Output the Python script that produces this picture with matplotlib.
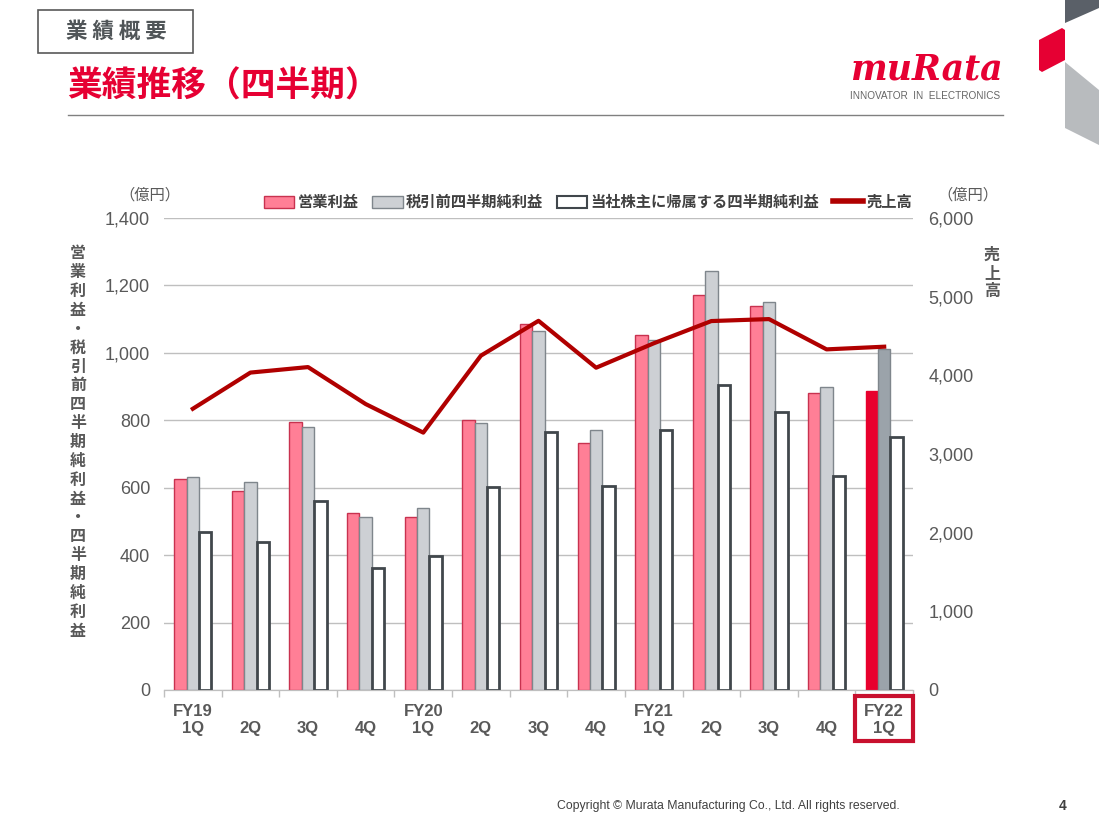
import matplotlib
matplotlib.use("Agg")
import matplotlib.pyplot as plt
import numpy as np
from matplotlib.patches import Rectangle, Polygon
from matplotlib.lines import Line2D
from matplotlib.ticker import FuncFormatter

plt.rcParams['font.family'] = ['Liberation Sans', 'Noto Sans CJK JP']

# data (億円)
quarters = ["FY19\n1Q", "\n2Q", "\n3Q", "\n4Q", "FY20\n1Q", "\n2Q", "\n3Q", "\n4Q",
            "FY21\n1Q", "\n2Q", "\n3Q", "\n4Q", "FY22\n1Q"]
operating_income = [625, 590, 794, 524, 512, 802, 1085, 733, 1052, 1172, 1138, 880, 887]
pretax_income = [631, 616, 779, 512, 539, 791, 1065, 770, 1037, 1242, 1150, 899, 1011]
net_income = [470, 440, 562, 363, 396, 603, 766, 606, 772, 906, 826, 636, 751]
net_sales = [3575, 4035, 4105, 3635, 3272, 4250, 4693, 4097, 4407, 4690, 4715, 4330, 4364]

PINK = "#FF7F96"
PINK_EDGE = "#C8324F"
GRAY = "#CDD0D4"
GRAY_EDGE = "#7F868C"
DARK = "#41474C"
RED = "#E8002D"
LINE_RED = "#B00000"
TXT = "#595959"
CJK = ['Noto Sans CJK JP', 'DejaVu Sans']

fig = plt.figure(figsize=(10.99, 8.24), dpi=100)
ax = fig.add_axes([164 / 1099, 1 - 690 / 824, 749 / 1099, 472 / 824])
ax2 = ax.twinx()

x = np.arange(len(quarters))
w = 0.215
pink_c = [PINK] * (len(x) - 1) + [RED]
pink_e = [PINK_EDGE] * (len(x) - 1) + [RED]
gray_c = [GRAY] * (len(x) - 1) + ["#9BA3AA"]
ax.bar(x - w, operating_income, w, color=pink_c, edgecolor=pink_e, linewidth=1, zorder=3)
ax.bar(x, pretax_income, w, color=gray_c, edgecolor=GRAY_EDGE, linewidth=1, zorder=3)
ax.bar(x + w, net_income, w, color="white", edgecolor=DARK, linewidth=2, zorder=3)
ax2.plot(x, net_sales, color=LINE_RED, linewidth=3, zorder=4)

ax.set_xlim(-0.5, len(x) - 0.5)
ax.set_ylim(0, 1400)
ax2.set_ylim(0, 6000)
ax.set_yticks(np.arange(0, 1401, 200))
ax2.set_yticks(np.arange(0, 6001, 1000))
fmt = FuncFormatter(lambda v, p: f"{int(v):,}")
ax.yaxis.set_major_formatter(fmt)
ax2.yaxis.set_major_formatter(fmt)
ax.grid(axis="y", color="#BFBFBF", linewidth=1, zorder=0)
ax.set_axisbelow(True)

ax.set_xticks(x)
ax.set_xticklabels(quarters, fontsize=12, fontweight="bold", color=TXT, linespacing=1.15)
ax.set_xticks(np.arange(-0.5, len(x), 1), minor=True)
ax.tick_params(axis="x", which="major", length=0, pad=10)
ax.tick_params(axis="x", which="minor", length=5, color="#BFBFBF", width=1)
ax.tick_params(axis="y", length=0, labelsize=13, labelcolor=TXT, pad=10)
ax2.tick_params(axis="y", length=0, labelsize=13, labelcolor=TXT, pad=11)

for a in (ax, ax2):
    for s in ("top", "left", "right"):
        a.spines[s].set_visible(False)
    a.spines["bottom"].set_color("#BFBFBF")

# highlight box around last label
fig.patches.append(Rectangle((855 / 1099, 1 - 741 / 824), 58 / 1099, 45 / 824,
                             transform=fig.transFigure, fill=False,
                             edgecolor="#C8102E", linewidth=3))

# axis titles
fig.text(150 / 1099, 1 - 195 / 824, "（億円）", family=CJK, fontsize=11, color=TXT,
         ha="center", va="center")
fig.text(968 / 1099, 1 - 195 / 824, "（億円）", family=CJK, fontsize=11, color=TXT,
         ha="center", va="center")
left_label = "営業利益・税引前四半期純利益・四半期純利益"
fig.text(78 / 1099, 1 - 442 / 824, "\n".join(left_label), family=CJK, fontsize=11.5,
         fontweight="bold", color=TXT, ha="center", va="center", linespacing=1.22)
fig.text(992 / 1099, 1 - 273 / 824, "\n".join("売上高"), family=CJK, fontsize=11.5,
         fontweight="bold", color=TXT, ha="center", va="center", linespacing=1.15)

# legend
handles = [Rectangle((0, 0), 1, 1, facecolor=PINK, edgecolor=PINK_EDGE),
           Rectangle((0, 0), 1, 1, facecolor=GRAY, edgecolor=GRAY_EDGE),
           Rectangle((0, 0), 1, 1, facecolor="white", edgecolor=DARK, linewidth=1.5),
           Line2D([], [], color=LINE_RED, linewidth=4)]
labels = ["営業利益", "税引前四半期純利益", "当社株主に帰属する四半期純利益", "売上高"]
leg = fig.legend(handles, labels, loc="center", bbox_to_anchor=(588 / 1099, 1 - 202 / 824),
                 ncol=4, frameon=False, handlelength=2.0, handleheight=0.8,
                 handletextpad=0.2, columnspacing=0.9,
                 prop={"family": CJK, "size": 11, "weight": "bold"})
for t in leg.get_texts():
    t.set_color("#404040")

# header
fig.patches.append(Rectangle((38 / 1099, 1 - 53 / 824), 155 / 1099, 43 / 824,
                             transform=fig.transFigure, fill=False,
                             edgecolor="#595959", linewidth=1.2))
fig.text(116 / 1099, 1 - 31 / 824, "業 績 概 要", family=CJK, fontsize=15.5,
         fontweight="bold", color="#505558", ha="center", va="center")
fig.text(67 / 1099, 1 - 86 / 824, "業績推移（四半期）", family=CJK, fontsize=25,
         fontweight="bold", color="#E60033", ha="left", va="center")
fig.add_artist(Line2D([68 / 1099, 1003 / 1099], [1 - 115 / 824, 1 - 115 / 824],
                      transform=fig.transFigure, color="#808080", linewidth=1))

# logo
fig.text(1003 / 1099, 1 - 69 / 824, "muRata", family="DejaVu Serif", fontsize=25,
         fontweight="bold", style="italic", color="#E60033", ha="right", va="center")
fig.text(1000 / 1099, 1 - 96 / 824, "INNOVATOR  IN  ELECTRONICS", fontsize=7.2,
         color="#666666", ha="right", va="center")

# decorative shapes on the right edge
def fpoly(pts, color):
    fig.patches.append(Polygon([(px / 1099, 1 - py / 824) for px, py in pts],
                               closed=True, transform=fig.transFigure,
                               facecolor=color, edgecolor="none"))

fpoly([(1065, 0), (1099, 0), (1099, 8), (1065, 23)], "#5A6068")
fpoly([(1039, 40), (1062, 28), (1065, 30), (1065, 60), (1042, 72), (1039, 70)], "#E60033")
fpoly([(1065, 62), (1099, 90), (1099, 145), (1065, 128)], "#B8BBBE")

# footer
fig.text(900 / 1099, 1 - 806 / 824,
         "Copyright © Murata Manufacturing Co., Ltd. All rights reserved.",
         fontsize=8.8, color="#404040", ha="right", va="center")
fig.text(1063 / 1099, 1 - 806 / 824, "4", fontsize=10, fontweight="bold",
         color="#404040", ha="center", va="center")

fig.savefig("out.png", dpi=100)
